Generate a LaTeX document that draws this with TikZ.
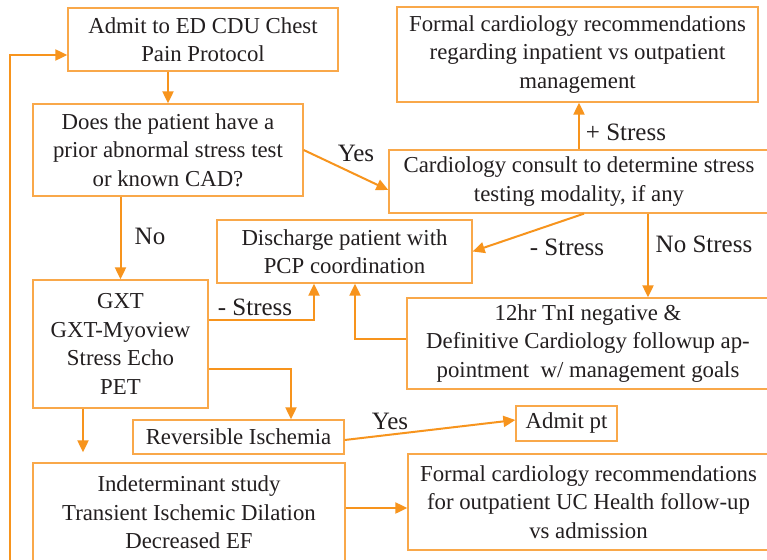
\documentclass[tikz,border=0pt]{standalone}
\usepackage{fontspec}
\setmainfont{Liberation Serif}
\usetikzlibrary{arrows.meta,calc}
\definecolor{arrorange}{HTML}{F7941D}
\definecolor{boxorange}{HTML}{F9A84A}
\definecolor{txt}{HTML}{231F20}
\tikzset{
  box/.style={draw=boxorange, line width=1.3pt, fill=white, inner sep=0pt, align=center,
    text=txt, font={\fontsize{22.8}{28.5}\selectfont}},
  lbl/.style={inner sep=0pt, text=txt, font={\fontsize{25}{30}\selectfont}},
  arr/.style={draw=arrorange, line width=2pt, -{Triangle[length=12pt,width=11pt]}},
  ln/.style={draw=arrorange, line width=2pt}
}
\begin{document}
\begin{tikzpicture}[x=1pt,y=-1pt]
\useasboundingbox (0,0) rectangle (767,559);
\clip (0,0) rectangle (767,559);
\fill[white] (0,0) rectangle (767,559);
% boxes
\node[box, minimum width=270, minimum height=63] (box1) at (203,39.5) {Admit to ED CDU Chest\\Pain Protocol};
\node[box, minimum width=270, minimum height=92] (box2) at (168,150) {Does the patient have a\\prior abnormal stress test\\or known CAD?};
\node[box, minimum width=361, minimum height=95] (topf) at (577.5,54.5) {Formal cardiology recommendations\\regarding inpatient vs outpatient\\management};
\node[box, minimum width=380, minimum height=63] (consult) at (579,181.5) {Cardiology consult to determine stress\\testing modality, if any};
\node[box, minimum width=255, minimum height=63] (disch) at (344.5,251.5) {Discharge patient with\\PCP coordination};
\node[box, minimum width=175, minimum height=128] (gxt) at (120.5,344) {GXT\\GXT-Myoview\\Stress Echo\\PET};
\node[box, minimum width=362, minimum height=91] (hr) at (588,343.5) {12hr TnI negative \&\\Definitive Cardiology followup ap-\\pointment\ \ w/ management goals};
\node[box, minimum width=211, minimum height=34] (rev) at (238.5,437) {Reversible Ischemia};
\node[box, minimum width=101, minimum height=35] (admit) at (566.5,423.5) {Admit pt};
\node[box, minimum width=312, minimum height=99] (indet) at (189,512.5) {Indeterminant study\\Transient Ischemic Dilation\\Decreased EF};
\node[box, minimum width=361, minimum height=96] (fb) at (588.5,502) {Formal cardiology recommendations\\for outpatient UC Health follow-up\\vs admission};
% connectors
\draw[arr] ([xshift=-35]box1.south) -- ([xshift=-35]box1.south |- box2.north);
\draw[arr] (box2.east) -- ([yshift=-8.5]consult.west);
\draw[arr] (gxt.north |- box2.south) -- (gxt.north);
\draw[arr] (consult.north) -- (consult.north |- topf.south);
\draw[arr] ([xshift=5]consult.south) -- (disch.east);
\draw[arr] ([xshift=69]consult.south) -- ([xshift=69]consult.south |- hr.north);
\draw[arr] ([yshift=24]gxt.east) -| ([xshift=-30.5]disch.south);
\draw[arr] ([yshift=4.5]hr.west) -| ([xshift=10.5]disch.south);
\draw[arr] ([yshift=-25]gxt.east) -| ([xshift=52.5]rev.north);
\draw[arr, shorten >=10pt] ([xshift=-37.5]gxt.south) -- ([xshift=-37.5]gxt.south |- indet.north);
\draw[arr] ([yshift=-3]rev.east) -- ([yshift=3.5]admit.west);
\draw[arr] ([yshift=4.5]indet.east) -- ([yshift=4.5]indet.east -| fb.west);
\coordinate (loopstart) at (10,580);
\draw[arr] (loopstart) |- ([yshift=-15.5]box1.west);
% labels
\node[lbl] (lyes1) at (356,153) {Yes};
\node[lbl] (lno) at (150,236) {No};
\node[lbl] (lplus) at (626,132) {+ Stress};
\node[lbl] (lminus1) at (567,247) {- Stress};
\node[lbl] (lnostress) at (704,244) {No Stress};
\node[lbl] (lminus2) at (255,307) {- Stress};
\node[lbl] (lyes2) at (390,421) {Yes};
\end{tikzpicture}
\end{document}
